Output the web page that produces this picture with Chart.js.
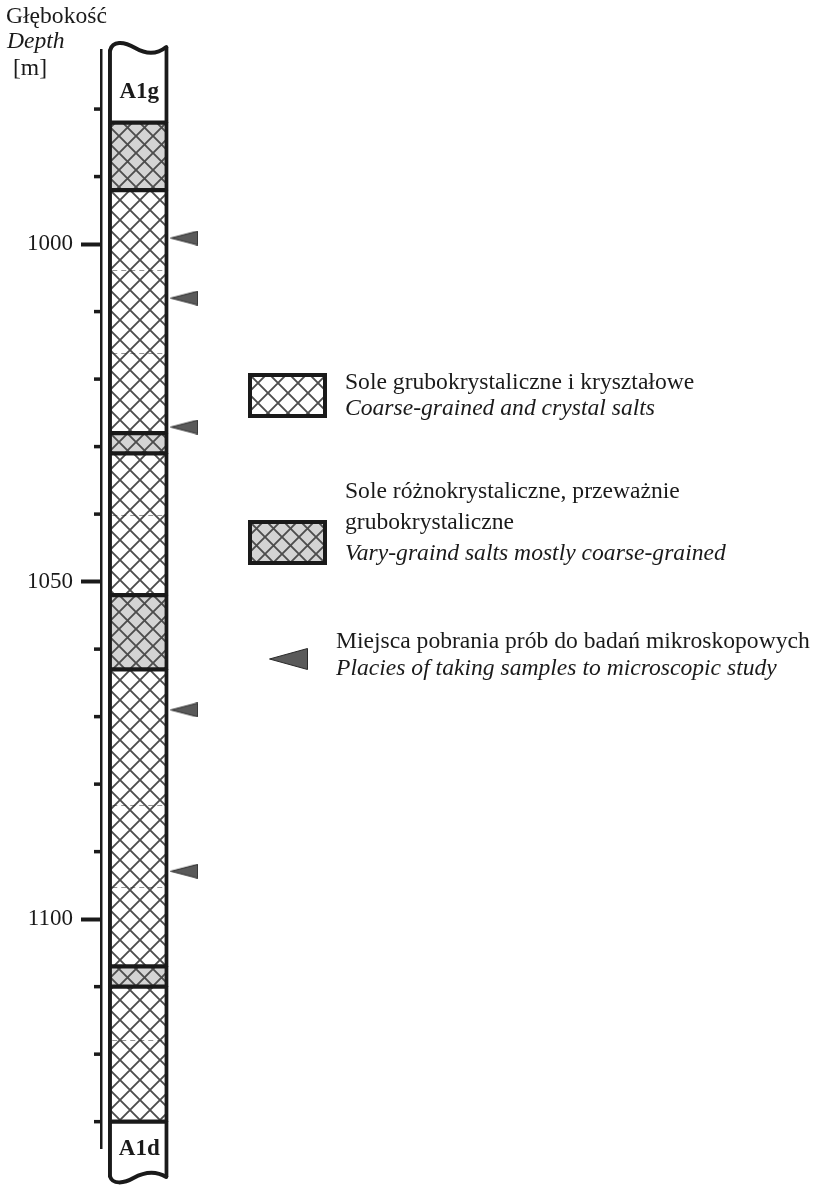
<!DOCTYPE html>
<html><head><meta charset="utf-8">
<script src="https://cdn.jsdelivr.net/npm/chart.js@4.4.1/dist/chart.umd.min.js"></script>
<style>
html,body{margin:0;padding:0;background:#fff;}
#wrap{position:relative;width:821px;height:1185px;overflow:hidden;background:#fff;}
#chart{position:absolute;left:0;top:0;}
.t{position:absolute;font-family:'Liberation Serif','Times New Roman',serif;font-size:23.6px;line-height:23.6px;color:#1a1a1a;white-space:nowrap;}
.i{font-style:italic;}
.sw{position:absolute;}
</style></head>
<body><div id="wrap">
<canvas id="chart" width="821" height="1185"></canvas>
<div class="t" style="left:6px;top:4px">Głębokość</div>
<div class="t i" style="left:7px;top:29px">Depth</div>
<div class="t" style="left:13px;top:56px">[m]</div>

<canvas class="sw" id="sw1" width="79" height="45" style="left:248px;top:373px"></canvas>
<div class="t" style="left:345px;top:370px">Sole grubokrystaliczne i kryształowe</div>
<div class="t i" style="left:345px;top:396px">Coarse-grained and crystal salts</div>

<canvas class="sw" id="sw2" width="79" height="45" style="left:248px;top:520px"></canvas>
<div class="t" style="left:345px;top:479px">Sole różnokrystaliczne, przeważnie</div>
<div class="t" style="left:345px;top:510px">grubokrystaliczne</div>
<div class="t i" style="left:345px;top:541px">Vary-graind salts mostly coarse-grained</div>

<canvas class="sw" id="sw3" width="39" height="22" style="left:269px;top:648px"></canvas>
<div class="t" style="left:336px;top:629px">Miejsca pobrania prób do badań mikroskopowych</div>
<div class="t i" style="left:336px;top:656px">Placies of taking samples to microscopic study</div>
</div>
<script>
// ---- data (depth in metres) ----
const depthTicks = [980, 990, 1000, 1010, 1020, 1030, 1040, 1050, 1060, 1070, 1080, 1090, 1100, 1110, 1120, 1130];
const labelledTicks = [1000, 1050, 1100];
const layerTop  = [969.5, 982, 992, 1028, 1031, 1052, 1063, 1107, 1110, 1130];
const layerBase = [982, 992, 1028, 1031, 1052, 1063, 1107, 1110, 1130, 1139.5];
const layerType = ['A1g', 'vary', 'coarse', 'vary', 'coarse', 'vary', 'coarse', 'vary', 'coarse', 'A1d'];
const sampleDepths = [999.1, 1008, 1027.1, 1069, 1092.9];
const coreBoxDepths = [1003.85, 1016.1, 1040.1, 1083.1, 1095.3, 1117.9];

const INK = '#1a1a1a';
const COLUMN_X = 1, SAMPLE_X = 2;

function makePattern(ctx, bg, period, lineColor, lw) {
  const c = document.createElement('canvas'); c.width = c.height = period;
  const g = c.getContext('2d');
  g.fillStyle = bg; g.fillRect(0, 0, period, period);
  g.strokeStyle = lineColor; g.lineWidth = lw;
  g.beginPath();
  for (const k of [-1, 0, 1]) {
    g.moveTo(-period, -period + k * period); g.lineTo(2 * period, 2 * period + k * period);
    g.moveTo(-period, 2 * period + k * period); g.lineTo(2 * period, -period + k * period);
  }
  g.stroke();
  return ctx.createPattern(c, 'repeat');
}
function makeTriangle(w, h) {
  const c = document.createElement('canvas'); c.width = w; c.height = h;
  const g = c.getContext('2d');
  g.beginPath(); g.moveTo(0.5, h / 2); g.lineTo(w - 0.5, 0.5); g.lineTo(w - 0.5, h - 0.5); g.closePath();
  g.fillStyle = '#5a5a5a'; g.fill(); g.strokeStyle = '#2a2a2a'; g.lineWidth = 1; g.stroke();
  return c;
}
const styles = {
  coarse: { bg: '#ffffff', period: 20 },
  vary: { bg: '#d4d4d4', period: 17 }
};
function fillFor(ctx, type) {
  if (type === 'coarse' || type === 'vary') {
    const s = styles[type];
    return makePattern(ctx, s.bg, s.period, '#4d4d4d', 1.9);
  }
  return '#ffffff';
}

// legend swatches
function drawSwatch(id, type) {
  const c = document.getElementById(id), g = c.getContext('2d');
  g.fillStyle = fillFor(g, type); g.fillRect(0, 0, c.width, c.height);
  g.strokeStyle = INK; g.lineWidth = 4; g.strokeRect(2, 2, c.width - 4, c.height - 4);
}
drawSwatch('sw1', 'coarse');
drawSwatch('sw2', 'vary');
document.getElementById('sw3').getContext('2d').drawImage(makeTriangle(39, 22), 0, 0);

const mainCtx = document.getElementById('chart').getContext('2d');
function layerData(types) {
  const out = [];
  layerType.forEach((t, i) => { if (types.includes(t)) out.push({ x: COLUMN_X, y: [layerTop[i], layerBase[i]], t }); });
  return out;
}
const barCommon = {
  type: 'bar', grouped: false, barThickness: 60, clip: false,
  borderColor: INK, borderSkipped: false,
  borderWidth: { left: 4, right: 4, top: 2.5, bottom: 2.5 }
};

const columnDecor = {
  id: 'columnDecor',
  afterDatasetsDraw(chart) {
    const ctx = chart.ctx, ys = chart.scales.y;
    const meta = chart.getDatasetMeta(0).data;
    const b0 = meta[0];
    const L = b0.x - b0.width / 2, R = b0.x + b0.width / 2, w = R - L, cx = (L + R) / 2;
    ctx.save();
    // core box boundaries
    ctx.strokeStyle = 'rgba(40,40,40,0.5)'; ctx.lineWidth = 1; ctx.setLineDash([5, 4]);
    coreBoxDepths.forEach(d => {
      const py = Math.round(ys.getPixelForValue(d)) + 0.5;
      ctx.beginPath(); ctx.moveTo(L + 4, py); ctx.lineTo(R - 4, py); ctx.stroke();
    });
    ctx.setLineDash([]);
    // top wavy cut
    const t0 = chart.chartArea.top;
    const topWave = (c, a, b, cont) => {
      if (cont) c.lineTo(a, t0); else c.moveTo(a, t0);
      c.bezierCurveTo(L + 0.07 * w, t0 - 9, L + 0.25 * w, t0 - 9, L + 0.45 * w, t0 - 2);
      c.bezierCurveTo(L + 0.62 * w, t0 + 4, L + 0.8 * w, t0 + 5, b, t0 - 3);
    };
    ctx.beginPath();
    ctx.moveTo(L - 4, t0 - 30); ctx.lineTo(L - 4, t0);
    topWave(ctx, L, R, true);
    ctx.lineTo(R + 4, t0 - 3); ctx.lineTo(R + 4, t0 - 30); ctx.closePath();
    ctx.fillStyle = '#ffffff'; ctx.fill();
    ctx.beginPath(); topWave(ctx, L + 2, R - 2, false);
    ctx.strokeStyle = INK; ctx.lineWidth = 4; ctx.lineCap = 'round'; ctx.stroke();
    // bottom wavy cut
    const bb = chart.chartArea.bottom + 29;
    const botWave = (c, a, b, cont) => {
      if (cont) c.lineTo(a, bb); else c.moveTo(a, bb);
      c.bezierCurveTo(L + 0.07 * w, bb + 7, L + 0.25 * w, bb + 7, L + 0.42 * w, bb + 1);
      c.bezierCurveTo(L + 0.6 * w, bb - 5, L + 0.8 * w, bb - 6, b, bb);
    };
    ctx.beginPath();
    ctx.moveTo(L - 4, bb + 40); ctx.lineTo(L - 4, bb);
    botWave(ctx, L, R, true);
    ctx.lineTo(R + 4, bb); ctx.lineTo(R + 4, bb + 40); ctx.closePath();
    ctx.fillStyle = '#ffffff'; ctx.fill();
    ctx.beginPath(); botWave(ctx, L + 2, R - 2, false);
    ctx.strokeStyle = INK; ctx.lineWidth = 4; ctx.stroke();
    // formation labels
    ctx.fillStyle = INK; ctx.font = 'bold 23px "Liberation Serif", serif';
    ctx.textAlign = 'center'; ctx.textBaseline = 'alphabetic';
    layerType.forEach((t, i) => {
      if (t === 'A1g') ctx.fillText(t, cx + 1, ys.getPixelForValue(layerBase[i]) - 25);
      if (t === 'A1d') ctx.fillText(t, cx + 1, ys.getPixelForValue(layerTop[i]) + 33);
    });
    ctx.restore();
  },
  afterDraw(chart) {
    const ctx = chart.ctx, ys = chart.scales.y;
    ctx.save(); ctx.fillStyle = INK;
    depthTicks.forEach(v => {
      if (labelledTicks.includes(v)) return;
      const py = ys.getPixelForValue(v);
      ctx.fillRect(ys.right - 7, py - 1.75, 7, 3.5);
    });
    ctx.restore();
  }
};

new Chart(mainCtx, {
  type: 'bar',
  data: {
    datasets: [
      Object.assign({}, barCommon, { label: 'Formation', data: layerData(['A1g', 'A1d']), backgroundColor: '#ffffff' }),
      Object.assign({}, barCommon, { label: 'Coarse-grained and crystal salts', data: layerData(['coarse']), backgroundColor: fillFor(mainCtx, 'coarse') }),
      Object.assign({}, barCommon, { label: 'Vary-graind salts mostly coarse-grained', data: layerData(['vary']), backgroundColor: fillFor(mainCtx, 'vary') }),
      {
        type: 'scatter', label: 'Samples', showLine: false, clip: false,
        data: sampleDepths.map(d => ({ x: SAMPLE_X, y: d })),
        pointStyle: makeTriangle(28, 15), pointRadius: 10, pointHoverRadius: 10
      }
    ]
  },
  options: {
    responsive: false, animation: false, devicePixelRatio: 1,
    layout: { padding: { left: 0, right: 0, top: 50, bottom: 37 } },
    plugins: { legend: { display: false }, tooltip: { enabled: false }, title: { display: false } },
    scales: {
      x: { type: 'linear', display: false, offset: false, min: 0.19, max: 15.6 },
      y: {
        type: 'linear', reverse: true, min: 971.25, max: 1133.9,
        afterBuildTicks: s => { s.ticks = depthTicks.map(v => ({ value: v })); },
        afterFit: s => { s.width = 101; },
        ticks: {
          autoSkip: false, padding: 8, color: INK,
          font: { family: 'Liberation Serif', size: 23 },
          callback: v => labelledTicks.includes(v) ? String(v) : ''
        },
        grid: {
          drawOnChartArea: false, drawTicks: true, tickLength: 20, tickWidth: 4,
          tickColor: c => (c.tick && labelledTicks.includes(c.tick.value)) ? INK : 'rgba(0,0,0,0)'
        },
        border: { display: true, color: INK, width: 2.5 }
      }
    }
  },
  plugins: [columnDecor]
});
</script>
</body></html>
